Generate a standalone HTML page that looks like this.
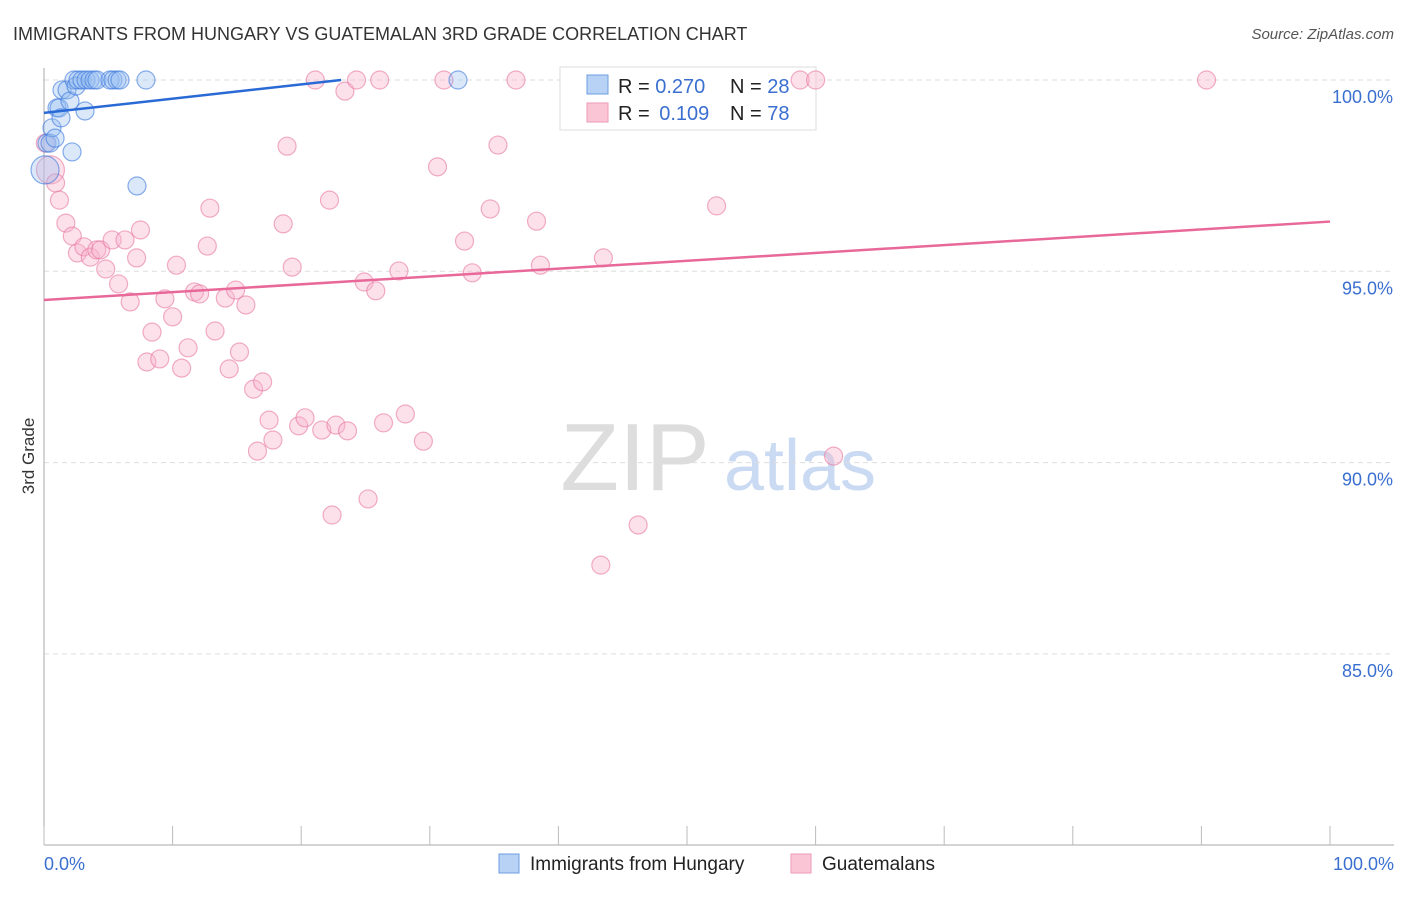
<!DOCTYPE html>
<html><head><meta charset="utf-8"><style>
body{margin:0;background:#fff;font-family:"Liberation Sans",sans-serif;}
svg text{font-family:"Liberation Sans",sans-serif;}
</style></head><body>
<svg id="chart" width="1406" height="892" xmlns="http://www.w3.org/2000/svg">
<text x="13" y="40" font-size="18" fill="#333">IMMIGRANTS FROM HUNGARY VS GUATEMALAN 3RD GRADE CORRELATION CHART</text>
<text x="1394" y="39" font-size="15" fill="#555" font-style="italic" text-anchor="end">Source: ZipAtlas.com</text>
<text x="34" y="456" font-size="17" fill="#333" transform="rotate(-90 34 456)" text-anchor="middle">3rd Grade</text>
<g><text x="635" y="490" font-size="96" fill="#ddd" font-family="Liberation Serif" text-anchor="middle">ZIP</text><text x="800" y="490" font-size="72" fill="#c9daf2" text-anchor="middle">atlas</text></g>
<g id="grid"></g><g id="axes"></g>
<g>
<rect x="560" y="67" width="256" height="63" fill="#fff" stroke="#ddd"/>
<rect x="587" y="75" width="21" height="19" fill="#b7d2f5" stroke="#6c9ce0"/>
<rect x="587" y="103" width="21" height="19" fill="#fac6d6" stroke="#ec9ab5"/>
<text x="618" y="93" font-size="20" fill="#222">R = <tspan fill="#3a6fd0">0.270</tspan></text>
<text x="730" y="93" font-size="20" fill="#222">N = <tspan fill="#3a6fd0">28</tspan></text>
<text x="618" y="120" font-size="20" fill="#222">R = <tspan fill="#3a6fd0" dx="4">0.109</tspan></text>
<text x="730" y="120" font-size="20" fill="#222">N = <tspan fill="#3a6fd0">78</tspan></text>
</g>
<g id="marks"></g>
<g>
<rect x="499" y="854" width="20" height="19" fill="#b7d2f5" stroke="#6c9ce0"/>
<text x="530" y="870" font-size="19" fill="#222">Immigrants from Hungary</text>
<rect x="791" y="854" width="20" height="19" fill="#fac6d6" stroke="#ec9ab5"/>
<text x="822" y="870" font-size="19" fill="#222">Guatemalans</text>
</g>
</svg>
<script>
const hungaryX=[0.23,0.47,0.62,0.86,1.01,1.17,1.32,1.40,1.79,2.02,2.18,2.33,2.49,2.64,2.95,3.27,3.58,3.89,4.12,5.13,5.37,5.68,5.91,7.93,7.23,3.19,32.19,0.08];
const hungaryY=[98.35,98.35,98.75,98.48,99.27,99.27,99.01,99.74,99.74,99.45,98.12,100,99.84,100,100,100,100,100,100,100,100,100,100,100,97.23,99.19,100,97.65];
const guatX=[0.1,0.5,0.9,1.2,1.7,2.2,2.6,3.1,3.6,4.1,4.4,4.8,5.3,5.8,6.3,6.7,7.2,7.5,8.4,8.0,9.0,9.4,10.0,10.3,10.7,11.2,11.7,12.1,12.7,12.9,13.3,14.1,14.4,14.9,15.2,15.7,16.3,16.6,17.0,17.5,17.8,18.6,18.9,19.3,19.8,20.3,21.1,21.6,22.2,22.7,23.4,23.6,24.3,24.9,25.2,25.8,26.1,26.4,22.4,27.6,28.1,29.5,30.6,31.1,32.7,33.3,34.7,35.3,36.7,38.3,38.6,43.3,43.5,46.2,52.3,58.8,60.0,61.4,90.4];
const guatY=[98.35,97.65,97.31,96.86,96.26,95.92,95.48,95.64,95.37,95.56,95.56,95.06,95.82,94.67,95.82,94.20,95.35,96.08,93.41,92.63,92.71,94.28,93.81,95.16,92.47,93.00,94.46,94.41,95.66,96.65,93.44,94.30,92.45,94.51,92.89,94.12,91.92,90.30,92.11,91.11,90.59,96.24,98.27,95.11,90.96,91.17,100,90.85,96.86,90.98,99.71,90.83,100,94.72,89.05,94.49,100,91.04,88.63,95.01,91.27,90.56,97.73,100,95.79,94.96,96.63,98.30,100,96.31,95.16,87.32,95.35,88.37,96.71,100,100,90.17,100];
const hungaryTrend=[[0,99.14],[23.1,100]];
const guatTrend=[[0,94.25],[100,96.3]];
const yTicks=[100,95,90,85];
const yTickLabels=["100.0%","95.0%","90.0%","85.0%"];
const xTicks=[0,10,20,30,40,50,60,70,80,90,100];
const NS="http://www.w3.org/2000/svg";
const sx=v=>44+v*12.86;
const sy=v=>80+(100-v)*38.26;
function mk(t,a,p){const e=document.createElementNS(NS,t);for(const k in a)e.setAttribute(k,a[k]);p.appendChild(e);return e;}
const grid=document.getElementById('grid'),axes=document.getElementById('axes'),marks=document.getElementById('marks');
yTicks.forEach((v,i)=>{
 const l=mk('line',{x1:44,x2:1394,y1:sy(v),y2:sy(v),stroke:'#ddd','stroke-dasharray':'5,4'},grid);
 
 
 const t=mk('text',{x:1393,y:sy(v)+23,'font-size':18,fill:'#3a6fd0','text-anchor':'end'},axes);
 t.textContent=yTickLabels[i];
 
 
});
const ya=mk('line',{x1:44,x2:44,y1:68,y2:845,stroke:'#aaa'},axes);


const xa=mk('line',{x1:44,x2:1394,y1:845,y2:845,stroke:'#aaa'},axes);


xTicks.forEach(v=>{
 const t=mk('line',{x1:sx(v),x2:sx(v),y1:826,y2:845,stroke:'#bbb'},axes);
 
 
});
[[0,"0.0%",'start',44],[100,"100.0%",'end',1394]].forEach(d=>{
 const t=mk('text',{x:d[3],y:870,'font-size':18,fill:'#3a6fd0','text-anchor':d[2]},axes);
 t.textContent=d[1];
 
 
});
guatX.forEach((x,i)=>{
 const c=mk('circle',{cx:sx(x),cy:sy(guatY[i]),r:(i==1?14:9),fill:'rgba(248,180,204,0.4)',stroke:'rgba(232,120,160,0.6)','stroke-width':1.2},marks);
 
 
});
hungaryX.forEach((x,i)=>{
 const c=mk('circle',{cx:sx(x),cy:sy(hungaryY[i]),r:(i==27?14:9),fill:'rgba(150,190,240,0.35)',stroke:'rgba(60,120,220,0.6)','stroke-width':1.2},marks);
 
 
});
const t1=mk('line',{x1:sx(hungaryTrend[0][0]),y1:sy(hungaryTrend[0][1]),x2:sx(hungaryTrend[1][0]),y2:sy(hungaryTrend[1][1]),stroke:'#2a6ad6','stroke-width':2.5},marks);


const t2=mk('line',{x1:sx(guatTrend[0][0]),y1:sy(guatTrend[0][1]),x2:sx(guatTrend[1][0]),y2:sy(guatTrend[1][1]),stroke:'#e8689a','stroke-width':2.5},marks);


</script>
</body></html>
